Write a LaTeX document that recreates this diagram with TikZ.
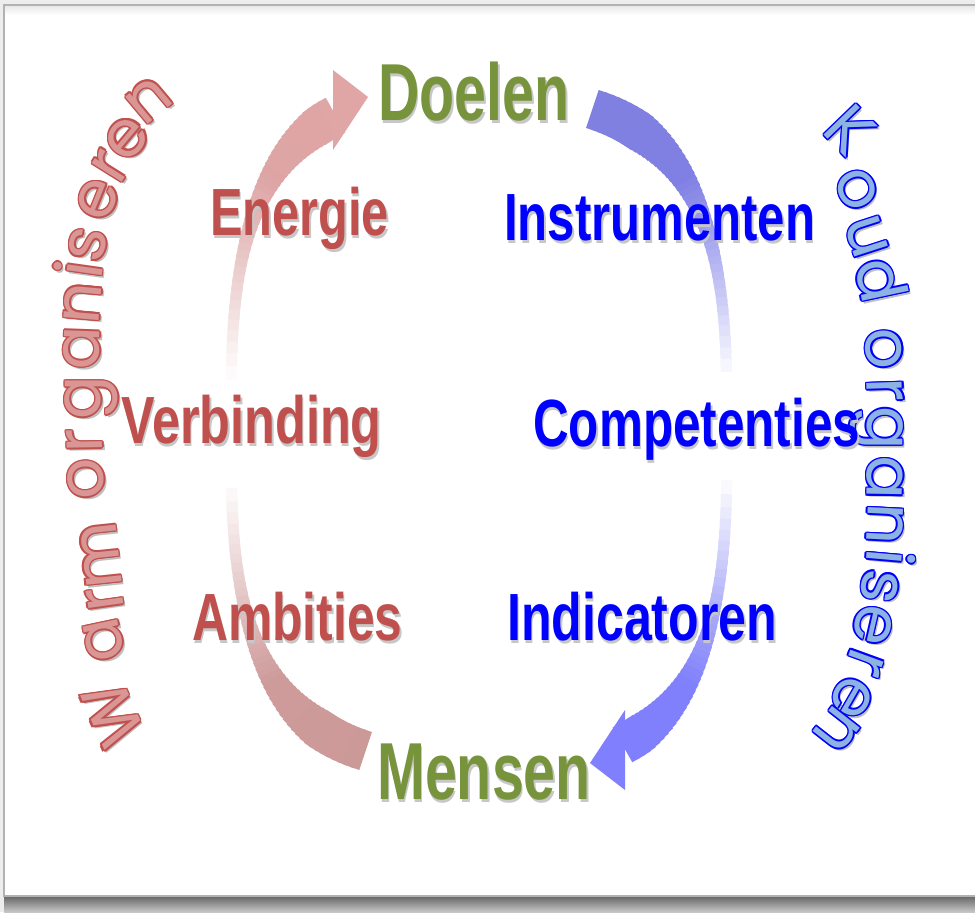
\documentclass[tikz,border=0pt]{standalone}
\usepackage{fontspec}
\usepackage{graphicx}
\newfontfamily\labfont{Liberation Sans}
\newfontfamily\curvfont{Poppins}
\definecolor{warmred}{HTML}{C0504D}
\definecolor{doelgreen}{HTML}{77933C}
\definecolor{coldblue}{HTML}{0000FF}
\definecolor{warmfill}{HTML}{D99694}
\definecolor{coldfill}{HTML}{8DB3E2}
\definecolor{pinkT}{HTML}{E0A6A6}
\definecolor{pinkB}{HTML}{CC9999}
\definecolor{blueT}{HTML}{8080E0}
\definecolor{blueB}{HTML}{8080FF}
\newcommand\shtxt[1]{\rlap{\kern1.8pt\raisebox{-3pt}{\textcolor{black!22}{#1}}}#1}
\tikzset{
  lab/.style={anchor=base west, inner sep=0pt, font=\labfont\bfseries\fontsize{57}{60}\selectfont},
  biglab/.style={anchor=base west, inner sep=0pt, font=\labfont\bfseries\fontsize{69}{72}\selectfont, text=doelgreen},
  cletter/.style={anchor=base, inner sep=0pt, font=\curvfont\fontsize{55}{65}\selectfont}
}
% band: #1 sx, #2 cy, #3 theta start, #4 theta end, #5 top colour, #6 bottom colour
\newcommand\band[6]{%
  \foreach \i in {0,...,89}{%
    \pgfmathsetmacro\bTa{#3+(#4-#3)*\i/90}%
    \pgfmathsetmacro\bTb{#3+(#4-#3)*(\i+1.6)/90}%
    \pgfmathsetmacro\bTm{#3+(#4-#3)*(\i+0.8)/90}%
    \pgfmathsetmacro\bXa{479+#1*248*pow(abs(cos(\bTa)),2/3)}%
    \pgfmathsetmacro\bYa{#2-335*sin(\bTa)*pow(abs(sin(\bTa))+0.0001,-1/3)}%
    \pgfmathsetmacro\bXb{479+#1*248*pow(abs(cos(\bTb)),2/3)}%
    \pgfmathsetmacro\bYb{#2-335*sin(\bTb)*pow(abs(sin(\bTb))+0.0001,-1/3)}%
    \pgfmathsetmacro\bS{sin(\bTm)*pow(abs(sin(\bTm))+0.0001,-1/3)}%
    \pgfmathsetmacro\bF{min(1,max(0,(abs(\bS)-0.3)/0.6))}%
    \pgfmathsetmacro\bG{100*min(1,max(0,(abs(\bS)-0.15)/0.6))}%
    \pgfmathsetmacro\bP{50*(\bS+1)}%
    \pgfmathsetmacro\bW{(11+29*\bF*\bF*\bF)*0.8536}%
    \colorlet{bandbase}{#5!\bP!#6}%
    \colorlet{bandcol}{bandbase!\bG!white}%
    \draw[line width=\bW pt, draw=bandcol] (\bXa,\bYa) -- (\bXb,\bYb);
  }}
% one outlined, rotated letter: #1 angle, #2 x, #3 y (letter body centre), #4 char, #5 outline, #6 fill
\newcommand\cl[6]{%
  \node[cletter, rotate=#1, text=black!25] at ([shift={(#1-90:0.5cm)}, xshift=2pt, yshift=-2.5pt] #2,#3) {#4};
  \foreach \ox/\oy in {1.3/0,-1.3/0,0/1.3,0/-1.3,0.92/0.92,0.92/-0.92,-0.92/0.92,-0.92/-0.92}{%
    \node[cletter, rotate=#1, text=#5] at ([shift={(#1-90:0.5cm)}, xshift=\ox pt, yshift=\oy pt] #2,#3) {#4};}
  \node[cletter, rotate=#1, text=#6] at ([shift={(#1-90:0.5cm)}] #2,#3) {#4};
}
\newcommand\wl[4]{\cl{#1}{#2}{#3}{#4}{warmred}{warmfill}}
\newcommand\kl[4]{\cl{#1}{#2}{#3}{#4}{coldblue}{coldfill}}
\begin{document}
\begin{tikzpicture}[x=0.03cm, y=-0.03cm]
\useasboundingbox (0,0) rectangle (975,912);
% slide frame
\fill[black!7] (0,0) rectangle (975,912);
\shade[top color=black!60, bottom color=black!22] (4,896) rectangle (975,912);
\fill[white] (4,5) rectangle (975,896);
\shade[top color=black!9, bottom color=white] (5,6) rectangle (975,15);
\draw[black!30, line width=1.2pt] (975,5) -- (4,5) -- (4,896) -- (975,896);
% arcs
\band{-1}{427}{-72}{63}{pinkT}{pinkB}
\band{1}{433}{72}{-63}{blueT}{blueB}
\fill[pinkT] (333,70) -- (368,97) -- (333,150) -- cycle;
\fill[blueB] (625,790) -- (590,763) -- (625,710) -- cycle;
% Warm organiseren
\wl{114}{118}{712}{W}
\wl{102}{105}{640}{a}
\wl{98}{106}{599}{r}
\wl{96}{102}{555}{m}
\wl{93}{87}{479}{o}
\wl{91}{86}{441}{r}
\wl{90}{84}{398}{g}
\wl{88}{83}{348}{a}
\wl{85}{84}{303}{n}
\wl{82}{86}{270}{i}
\wl{78}{89}{245}{s}
\wl{68}{99}{200}{e}
\wl{58}{112}{167}{r}
\wl{50}{128}{139}{e}
\wl{40}{150}{101}{n}
% Koud organiseren
\kl{-46}{846}{134}{K}
\kl{-62}{856}{190}{o}
\kl{-72}{866}{237}{u}
\kl{-78}{875}{281}{d}
\kl{-86}{883}{349}{o}
\kl{-88}{884}{390}{r}
\kl{-90}{884}{428}{g}
\kl{-91}{884}{478}{a}
\kl{-93}{884}{524}{n}
\kl{-95}{883}{557}{i}
\kl{-98}{879}{586}{s}
\kl{-103}{872}{625}{e}
\kl{-110}{864}{662}{r}
\kl{-120}{851}{697}{e}
\kl{-128}{836}{729}{n}
% labels
\node[biglab] (doelen) at (378,120) {\scalebox{0.71}[1]{\shtxt{Doelen}}};
\node[biglab] (mensen) at (377,799) {\scalebox{0.71}[1]{\shtxt{Mensen}}};
\node[lab, text=warmred] (energie) at (210,235) {\scalebox{0.73}[1]{\shtxt{Energie}}};
\node[lab, text=warmred] (verbinding) at (121,443) {\scalebox{0.755}[1]{\shtxt{Verbinding}}};
\node[lab, text=warmred] (ambities) at (192,640) {\scalebox{0.745}[1]{\shtxt{Ambities}}};
\node[lab, text=coldblue] (instrumenten) at (504,240) {\scalebox{0.735}[1]{\shtxt{Instrumenten}}};
\node[lab, text=coldblue] (competenties) at (533,446) {\scalebox{0.74}[1]{\shtxt{Competenties}}};
\node[lab, text=coldblue] (indicatoren) at (507,640) {\scalebox{0.75}[1]{\shtxt{Indicatoren}}};
\end{tikzpicture}
\end{document}
